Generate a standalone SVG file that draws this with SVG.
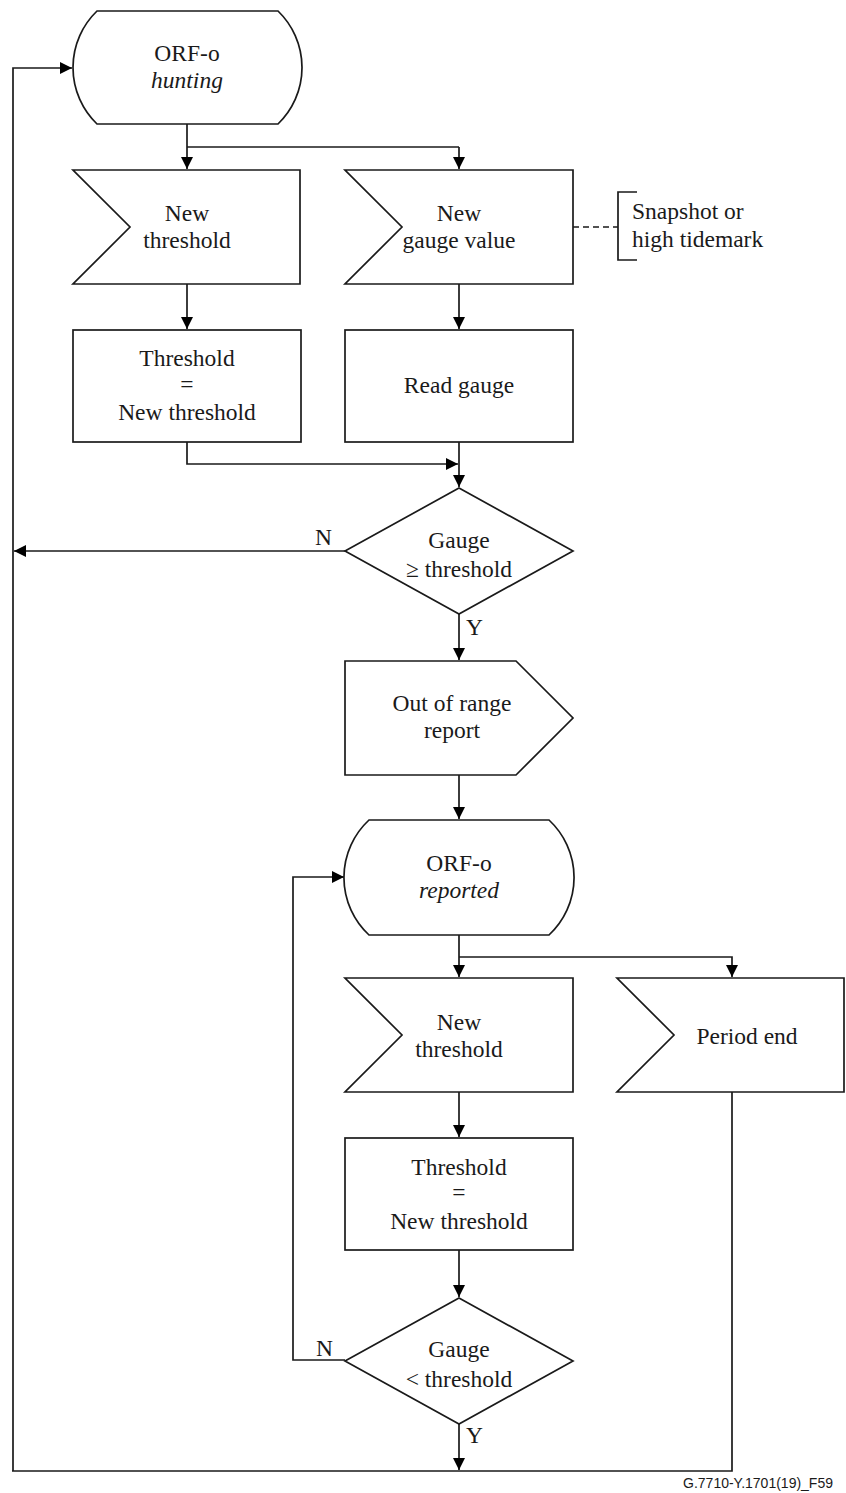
<svg xmlns="http://www.w3.org/2000/svg" width="846" height="1493" viewBox="0 0 846 1493">
<defs>
<marker id="ah" viewBox="0 0 12 12" refX="12" refY="6" markerWidth="12" markerHeight="12" markerUnits="userSpaceOnUse" orient="auto">
<path d="M0,0 L12,6 L0,12 Z" fill="#000"/>
</marker>
<style>
.s{fill:#fff;stroke:#1a1a1a;stroke-width:1.7}
.c{fill:none;stroke:#1a1a1a;stroke-width:1.7}
.t{font-family:"Liberation Serif","Times New Roman",serif;font-size:23.5px;fill:#1a1a1a;text-anchor:middle}
.l{font-family:"Liberation Serif","Times New Roman",serif;font-size:23.5px;fill:#1a1a1a}
.i{font-style:italic}
.f{font-family:"Liberation Sans",Arial,sans-serif;font-size:14px;fill:#1a1a1a;text-anchor:end}
</style>
</defs>
<rect width="846" height="1493" fill="#fff"/>
<g id="connectors">
<path class="c" d="M187,147 H459"/>
<path class="c" d="M573,227 H618" stroke-dasharray="6,4"/>
<path class="c" d="M187,124 V169" marker-end="url(#ah)"/>
<path class="c" d="M459,147 V169" marker-end="url(#ah)"/>
<path class="c" d="M187,284 V329" marker-end="url(#ah)"/>
<path class="c" d="M459,284 V329" marker-end="url(#ah)"/>
<path class="c" d="M187,442 V464 H458" marker-end="url(#ah)"/>
<path class="c" d="M459,442 V487" marker-end="url(#ah)"/>
<path class="c" d="M345,551 H14" marker-end="url(#ah)"/>
<path class="c" d="M13,1471 V68 H72" marker-end="url(#ah)"/>
<path class="c" d="M459,614 V660" marker-end="url(#ah)"/>
<path class="c" d="M459,775 V819" marker-end="url(#ah)"/>
<path class="c" d="M459,935 V977" marker-end="url(#ah)"/>
<path class="c" d="M459,957 H732 V977" marker-end="url(#ah)"/>
<path class="c" d="M459,1092 V1137" marker-end="url(#ah)"/>
<path class="c" d="M459,1250 V1297" marker-end="url(#ah)"/>
<path class="c" d="M345,1360 H293 V877 H344" marker-end="url(#ah)"/>
<path class="c" d="M459,1424 V1470" marker-end="url(#ah)"/>
<path class="c" d="M732,1092 V1471 H12"/>
</g>
<g id="start-hunting">
<path class="s" d="M97,11 H278 A78.5,78.5 0 0 1 278,124 H97 A78.5,78.5 0 0 1 97,11 Z"/>
<text class="t" x="187" y="61">ORF-o</text>
<text class="t i" x="187" y="88">hunting</text>
</g>
<g id="new-threshold-1">
<path class="s" d="M73,170 H300 V284 H73 L130,227 Z"/>
<text class="t" x="187" y="221">New</text>
<text class="t" x="187" y="248">threshold</text>
</g>
<g id="new-gauge-value">
<path class="s" d="M345,170 H573 V284 H345 L402,227 Z"/>
<text class="t" x="459" y="221">New</text>
<text class="t" x="459" y="248">gauge value</text>
</g>
<g id="annotation">
<path class="c" d="M637,192 H618 V260 H637"/>
<text class="l" x="632" y="219">Snapshot or</text>
<text class="l" x="632" y="247">high tidemark</text>
</g>
<g id="set-threshold-1">
<rect class="s" x="73" y="330" width="228" height="112"/>
<text class="t" x="187" y="366">Threshold</text>
<text class="t" x="187" y="392">=</text>
<text class="t" x="187" y="420">New threshold</text>
</g>
<g id="read-gauge">
<rect class="s" x="345" y="330" width="228" height="112"/>
<text class="t" x="459" y="393">Read gauge</text>
</g>
<g id="decision-ge">
<path class="s" d="M459,488 L573,551 L459,614 L345,551 Z"/>
<text class="t" x="459" y="548">Gauge</text>
<text class="t" x="459" y="577">≥ threshold</text>
<text class="l" x="315" y="545">N</text>
<text class="l" x="466" y="635">Y</text>
</g>
<g id="out-of-range-report">
<path class="s" d="M345,661 H516 L573,718 L516,775 H345 Z"/>
<text class="t" x="452" y="711">Out of range</text>
<text class="t" x="452" y="738">report</text>
</g>
<g id="reported">
<path class="s" d="M369,820 H549 A78.5,78.5 0 0 1 549,935 H369 A78.5,78.5 0 0 1 369,820 Z"/>
<text class="t" x="459" y="871">ORF-o</text>
<text class="t i" x="459" y="898">reported</text>
</g>
<g id="new-threshold-2">
<path class="s" d="M345,978 H573 V1092 H345 L402,1035 Z"/>
<text class="t" x="459" y="1030">New</text>
<text class="t" x="459" y="1057">threshold</text>
</g>
<g id="period-end">
<path class="s" d="M617,978 H844 V1092 H617 L674,1035 Z"/>
<text class="t" x="747" y="1044">Period end</text>
</g>
<g id="set-threshold-2">
<rect class="s" x="345" y="1138" width="228" height="112"/>
<text class="t" x="459" y="1175">Threshold</text>
<text class="t" x="459" y="1200">=</text>
<text class="t" x="459" y="1229">New threshold</text>
</g>
<g id="decision-lt">
<path class="s" d="M459,1298 L573,1361 L459,1424 L345,1361 Z"/>
<text class="t" x="459" y="1357">Gauge</text>
<text class="t" x="459" y="1387">&lt; threshold</text>
<text class="l" x="316" y="1356">N</text>
<text class="l" x="466" y="1443">Y</text>
</g>
<text class="f" x="833" y="1488">G.7710-Y.1701(19)_F59</text>
</svg>
